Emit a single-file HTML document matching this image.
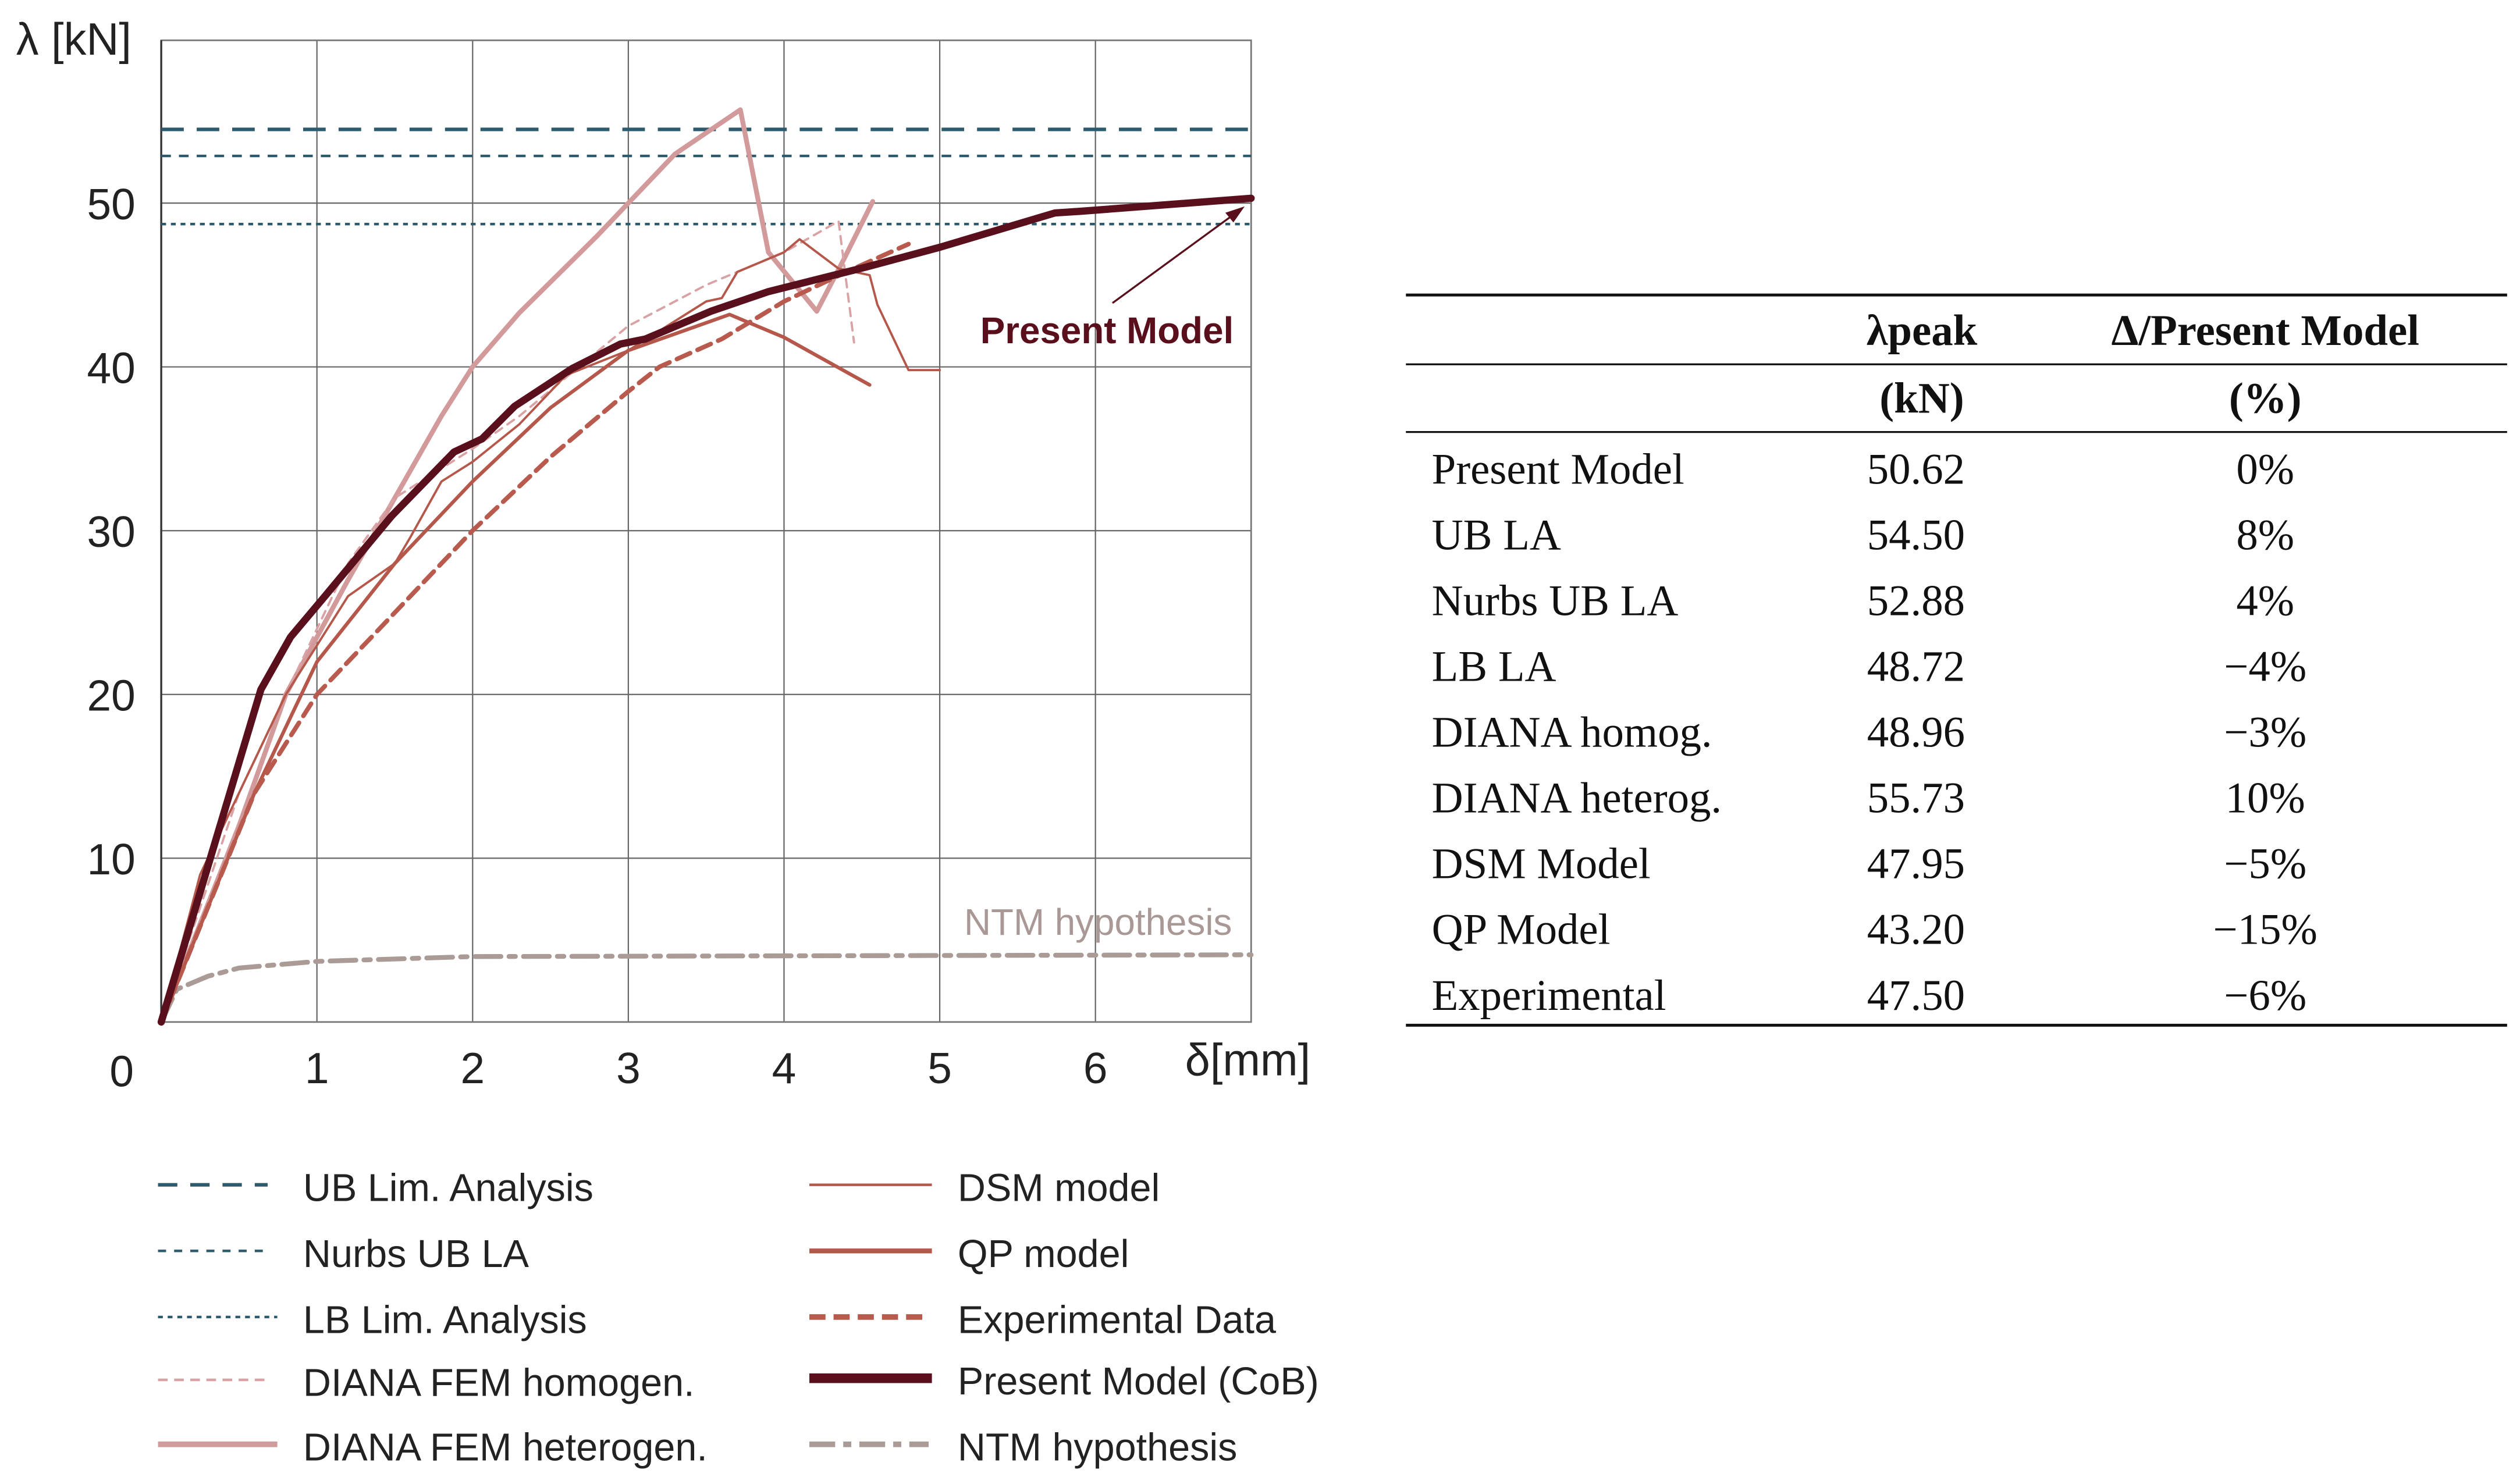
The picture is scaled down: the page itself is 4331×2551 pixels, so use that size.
<!DOCTYPE html>
<html><head><meta charset="utf-8"><style>
html,body{margin:0;padding:0;background:#fff;}
svg{display:block;}
text{font-family:"Liberation Sans",Arial,sans-serif;}
.serif{font-family:"Liberation Serif","DejaVu Serif",serif;}
</style></head><body>
<svg id="chart" width="4331" height="2551" viewBox="0 0 1563 920.6" preserveAspectRatio="none" xmlns="http://www.w3.org/2000/svg">
<g id="plot"></g>
<g id="legend"></g>
<g id="table"></g>
</svg>
<script>
const xTicks=[1,2,3,4,5,6];
const yTicks=[10,20,30,40,50];
const hLineNames=["UB Lim. Analysis","Nurbs UB LA","LB Lim. Analysis"];
const hLineValues=[54.5,52.88,48.72];
const presentX=[0,0.64,0.83,1.06,1.48,1.88,2.06,2.27,2.64,2.95,3.11,3.53,3.9,4.53,5.0,5.74,5.9,7.0];
const presentY=[0,20.3,23.5,26.1,30.9,34.8,35.6,37.6,39.9,41.4,41.7,43.4,44.6,46.1,47.3,49.4,49.5,50.3];
const hetX=[0,0.5,0.8,1.2,1.5,1.8,2.0,2.3,2.8,3.0,3.3,3.72,3.9,4.21,4.38,4.57];
const hetY=[0,12,20,27,32,37,40,43.3,48,50,53,55.7,47,43.4,46.5,50.1];
const homX=[0,0.5,0.9,1.2,1.5,2.0,2.3,3.0,3.5,4.0,4.35,4.45];
const homY=[0,14,22,28,32,35,37,42.5,45,47,48.9,41.5];
const dsmX=[0,0.25,0.5,0.8,1.2,1.5,1.6,1.8,2.0,2.3,2.6,3.0,3.5,3.6,3.7,4.0,4.1,4.35,4.55,4.6,4.8,5.0];
const dsmY=[0,9,14,20,26,28,29.6,33,34.2,36.5,39.5,41,44,44.2,45.8,47,47.8,46,45.6,43.8,39.8,39.8];
const qpX=[0,0.6,1.0,1.5,2.0,2.5,3.0,3.65,4.0,4.55];
const qpY=[0,14,22,28,33,37.5,41,43.2,41.8,38.9];
const expX=[0,0.6,1.0,1.5,2.0,2.5,3.0,3.2,3.6,4.0,4.4,4.8];
const expY=[0,14,20,25,30,34.5,38.5,40,41.7,44,45.8,47.5];
const ntmX=[0,0.1,0.3,0.5,1.0,2.0,7.0];
const ntmY=[0,2,2.8,3.3,3.7,4.0,4.1];
const tableRows=["Present Model","UB LA","Nurbs UB LA","LB LA","DIANA homog.","DIANA heterog.","DSM Model","QP Model","Experimental"];
const tablePeak=["50.62","54.50","52.88","48.72","48.96","55.73","47.95","43.20","47.50"];
const tableDelta=["0%","8%","4%","\u22124%","\u22123%","10%","\u22125%","\u221215%","\u22126%"];

const NS="http://www.w3.org/2000/svg";
const X0=100,X1=776,Y0=634,Y50=126;
const sx=v=>X0+v*(X1-X0)/7;
const sy=v=>Y0-v*(Y0-Y50)/50;
function mk(tag,attrs,parent){const e=document.createElementNS(NS,tag);for(const k in attrs)e.setAttribute(k,attrs[k]);parent.appendChild(e);return e;}
const plot=document.getElementById('plot');
// grid
xTicks.forEach(t=>{const l=mk('line',{x1:sx(t),x2:sx(t),y1:25,y2:Y0,stroke:'#666','stroke-width':0.8},plot);


const tx=mk('text',{x:sx(t),y:672,'font-size':27,'text-anchor':'middle',fill:'#222'},plot);tx.textContent=t;

});
yTicks.forEach(t=>{const l=mk('line',{x1:X0,x2:X1,y1:sy(t),y2:sy(t),stroke:'#666','stroke-width':0.8},plot);


const tx=mk('text',{x:84,y:sy(t)+10,'font-size':27,'text-anchor':'end',fill:'#222'},plot);tx.textContent=t;

});
const fr=mk('rect',{x:X0,y:25,width:X1-X0,height:Y0-25,fill:'none',stroke:'#777','stroke-width':1},plot);


const ax=mk('line',{x1:X0,x2:X0,y1:25,y2:Y0,stroke:'#333','stroke-width':1.2},plot);


const t0=mk('text',{x:68,y:674,'font-size':27,fill:'#222'},plot);t0.textContent='0';


const yt=mk('text',{x:10,y:34,'font-size':28,fill:'#222'},plot);yt.textContent='λ [kN]';


const xt=mk('text',{x:735,y:667,'font-size':28,fill:'#222'},plot);xt.textContent='δ[mm]';



const blue='#2d5a6c';
const hStyles=[{w:2.2,d:'14 8'},{w:1.6,d:'6 5'},{w:1.6,d:'3 3'}];
hLineValues.forEach((v,i)=>{const l=mk('line',{x1:X0,x2:X1,y1:sy(v),y2:sy(v),stroke:blue,'stroke-width':hStyles[i].w,'stroke-dasharray':hStyles[i].d},plot);

});

function series(xs,ys,color,w,dash,name){const pts=xs.map((x,i)=>sx(x).toFixed(1)+','+sy(ys[i]).toFixed(1)).join(' ');
const p=mk('polyline',{points:pts,fill:'none',stroke:color,'stroke-width':w,'stroke-linejoin':'round','stroke-linecap':'round'},plot);
if(dash)p.setAttribute('stroke-dasharray',dash);

}
series(ntmX,ntmY,'#ab9b97',3,'16 5 4 5','series-ntm-hypothesis');
series(hetX,hetY,'#d39a9c',3,null,'series-diana-heterogen');
series(homX,homY,'#d9a3a5',1.4,'5 4','series-diana-homogen');
series(dsmX,dsmY,'#b5574a',1.4,null,'series-dsm-model');
series(qpX,qpY,'#b5574a',2.2,null,'series-qp-model');
series(expX,expY,'#b85a4d',2.8,'9 5','series-experimental');
series(presentX,presentY,'#5a0f1c',4.5,null,'series-present-model');

const ar=mk('line',{x1:690,y1:188,x2:768,y2:131,stroke:'#5a0f1c','stroke-width':1.2},plot);


const ah=mk('polygon',{points:'772,128 760,132 765,138',fill:'#5a0f1c'},plot);


const pm=mk('text',{x:608,y:213,'font-size':23,'font-weight':'bold',fill:'#5a0f1c'},plot);pm.textContent='Present Model';


const nt=mk('text',{x:598,y:580,'font-size':23,fill:'#a99895'},plot);nt.textContent='NTM hypothesis';



// legend
const legend=document.getElementById('legend');
const legItems=[
['UB Lim. Analysis',98,166,737,blue,2.2,'12 8'],
['Nurbs UB LA',98,168,778,blue,1.6,'5 5'],
['LB Lim. Analysis',98,172,819,blue,1.6,'3 3'],
['DIANA FEM homogen.',98,168,858,'#d9a3a5',1.6,'6 4'],
['DIANA FEM heterogen.',98,172,898,'#d39a9c',3.5,null],
['DSM model',502,578,737,'#b5574a',1.6,null],
['QP model',502,578,778,'#b5574a',3,null],
['Experimental Data',502,576,819,'#b85a4d',3.5,'10 5'],
['Present Model (CoB)',502,578,857,'#5a0f1c',6,null],
['NTM hypothesis',502,576,898,'#ab9b97',3.5,'16 5 5 5']];
legItems.forEach(it=>{const g=mk('g',{},legend);


const l=mk('line',{x1:it[1],x2:it[2],y1:it[3]-2,y2:it[3]-2,stroke:it[4],'stroke-width':it[5]},g);
if(it[6])l.setAttribute('stroke-dasharray',it[6]);
const tx=mk('text',{x:it[1]<300?188:594,y:it[3]+8,'font-size':24,fill:'#222'},g);tx.textContent=it[0];});

// table
const tb=document.getElementById('table');
[[183,1.8],[226,1.2],[268,1.2],[636,1.8]].forEach(r=>{const l=mk('line',{x1:872,x2:1555,y1:r[0],y2:r[0],stroke:'#111','stroke-width':r[1]},tb);

});
function tt(x,y,s,anchor,bold,name){const e=mk('text',{x:x,y:y,'font-size':27,'text-anchor':anchor,fill:'#111',class:'serif'},tb);if(bold)e.setAttribute('font-weight','bold');e.textContent=s;

}
tt(1192,214,'λpeak','middle',true,'header-lambda-peak');
tt(1405,214,'Δ/Present Model','middle',true,'header-delta');
tt(1192,256,'(kN)','middle',true,'header-unit-kn');
tt(1405,256,'(%)','middle',true,'header-unit-percent');
tableRows.forEach((r,i)=>{const y=300+i*40.8;
tt(888,y,r,'start',false,'row-label');
tt(1158,y,tablePeak[i],'start',false,'row-peak');
tt(1405,y,tableDelta[i],'middle',false,'row-delta');});
</script>
</body></html>
